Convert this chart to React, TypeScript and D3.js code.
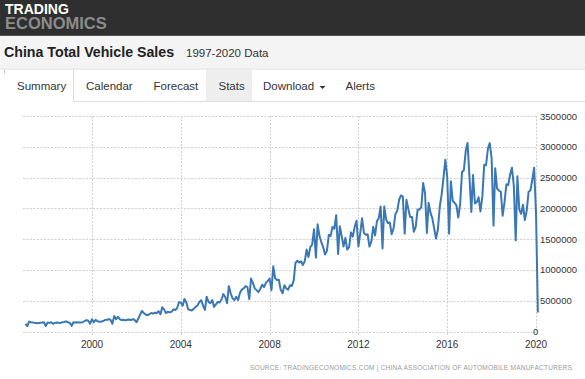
import React from "react";
import * as d3 from "d3";

// Monthly China total vehicle sales (units), Jan 1997 – Feb 2020
const sales1997 = [125000, 85000, 160000, 150000, 148000, 140000, 138000, 135000, 142000, 145000, 150000, 90000];
const sales1998 = [145000, 140000, 150000, 125000, 140000, 145000, 142000, 140000, 150000, 155000, 165000, 150000];
const sales1999 = [140000, 92000, 150000, 148000, 150000, 145000, 148000, 150000, 170000, 185000, 175000, 125000];
const sales2000 = [200000, 150000, 190000, 165000, 160000, 160000, 170000, 185000, 190000, 200000, 190000, 125000];
const sales2001 = [250000, 200000, 240000, 200000, 185000, 190000, 180000, 190000, 195000, 185000, 200000, 190000];
const sales2002 = [150000, 210000, 270000, 333000, 300000, 275000, 265000, 280000, 300000, 290000, 305000, 300000];
const sales2003 = [330000, 280000, 394000, 360000, 300000, 320000, 310000, 320000, 360000, 350000, 377000, 474000];
const sales2004 = [470000, 420000, 527000, 470000, 360000, 350000, 340000, 370000, 400000, 420000, 480000, 510000];
const sales2005 = [420000, 350000, 565000, 480000, 460000, 510000, 400000, 440000, 480000, 470000, 520000, 608000];
const sales2006 = [560000, 460000, 737000, 620000, 540000, 510000, 565000, 510000, 630000, 680000, 700000, 737000];
const sales2007 = [720000, 527000, 860000, 790000, 700000, 672000, 640000, 690000, 760000, 720000, 790000, 820000];
const sales2008 = [860000, 670000, 1060000, 865000, 835000, 840000, 680000, 620000, 750000, 700000, 680000, 750000];
const sales2009 = [740000, 830000, 1110000, 1150000, 1120000, 1140000, 1080000, 1140000, 1330000, 1210000, 1370000, 1410000];
const sales2010 = [1660000, 1200000, 1740000, 1550000, 1450000, 1370000, 1250000, 1310000, 1570000, 1550000, 1700000, 1670000];
const sales2011 = [1890000, 1260000, 1710000, 1550000, 1380000, 1520000, 1330000, 1370000, 1610000, 1540000, 1700000, 1800000];
const sales2012 = [1380000, 1600000, 1840000, 1600000, 1570000, 1580000, 1380000, 1460000, 1700000, 1560000, 1790000, 1840000];
const sales2013 = [2030000, 1350000, 2030000, 1820000, 1760000, 1770000, 1580000, 1670000, 1910000, 1960000, 2140000, 2210000];
const sales2014 = [2190000, 1590000, 2140000, 1990000, 1860000, 1860000, 1620000, 1700000, 1980000, 1980000, 2020000, 2410000];
const sales2015 = [2250000, 1600000, 2090000, 1930000, 1840000, 1670000, 1510000, 1660000, 2030000, 2220000, 2500000, 2790000];
const sales2016 = [2510000, 1590000, 2440000, 2120000, 2090000, 2050000, 1850000, 2070000, 2590000, 2620000, 2930000, 3060000];
const sales2017 = [2520000, 1940000, 2540000, 2080000, 2100000, 2180000, 1950000, 2190000, 2710000, 2700000, 2970000, 3060000];
const sales2018 = [2810000, 1720000, 2650000, 2320000, 2290000, 2270000, 1880000, 2100000, 2390000, 2380000, 2550000, 2660000];
const sales2019 = [2370000, 1480000, 2520000, 1980000, 1910000, 2060000, 1810000, 1960000, 2270000, 2290000, 2460000, 2660000];
const sales2020 = [1940000, 310000];

const yearSeries = [
  sales1997, sales1998, sales1999, sales2000, sales2001, sales2002, sales2003, sales2004,
  sales2005, sales2006, sales2007, sales2008, sales2009, sales2010, sales2011, sales2012,
  sales2013, sales2014, sales2015, sales2016, sales2017, sales2018, sales2019, sales2020,
];
const firstYear = 1997;

const yTicks = [0, 500000, 1000000, 1500000, 2000000, 2500000, 3000000, 3500000];
const xTickYears = [2000, 2004, 2008, 2012, 2016, 2020];
const tabs = ["Summary", "Calendar", "Forecast", "Stats", "Download", "Alerts"];

const FONT = "'Liberation Sans', Arial, Helvetica, sans-serif";

export default function App() {
  const W = 585;
  const H = 379;

  const data: { date: Date; value: number }[] = [];
  yearSeries.forEach((arr, i) => {
    arr.forEach((v, m) => {
      data.push({ date: new Date(Date.UTC(firstYear + i, m, 1)), value: v });
    });
  });

  const x = d3
    .scaleUtc()
    .domain([new Date(Date.UTC(2000, 0, 1)), new Date(Date.UTC(2020, 0, 1))])
    .range([92, 536]);
  const y = d3.scaleLinear().domain([0, 3500000]).range([331.5, 116]);

  const line = d3
    .line<{ date: Date; value: number }>()
    .x((d) => x(d.date))
    .y((d) => y(d.value));

  const plotLeft = 23;
  const plotRight = 536;

  const tabX = [17, 86, 153.5, 218.5, 263, 345.5];

  return (
    <div style={{ position: "absolute", left: 0, top: 0, width: W, height: H }}>
      <svg width={W} height={H} style={{ display: "block", fontFamily: FONT }}>
        <rect x={0} y={0} width={W} height={H} fill="#ffffff" />
        {/* header */}
        <rect x={0} y={0} width={W} height={36} fill="#2f2f2f" />
        <rect x={0} y={35} width={W} height={1} fill="#555555" />
        <text fontWeight="bold">
          <tspan x={5} y={14} fontSize={14} fill="#ffffff">
            TRADING
          </tspan>
          <tspan x={5} y={28.5} fontSize={16.5} fill="#8c8c8c">
            ECONOMICS
          </tspan>
        </text>
        {/* title bar */}
        <rect x={0} y={36} width={W} height={32.5} fill="#f4f4f4" />
        <rect x={0} y={68.5} width={W} height={1} fill="#dddddd" />
        <text x={4} y={57} fontSize={14.2} fontWeight="bold" fill="#222222">
          China Total Vehicle Sales
        </text>
        <text x={186} y={57} fontSize={11.5} fill="#333333">
          1997-2020 Data
        </text>
        {/* tabs */}
        <rect x={206} y={69.5} width={46} height={31.5} fill="#eeeeee" />
        <rect x={73.5} y={101} width={W - 73.5} height={1} fill="#dddddd" />
        <rect x={73} y={69.5} width={1} height={32} fill="#dddddd" />
        <rect x={4} y={69.5} width={1} height={4} fill="#cccccc" />
        {tabs.map((t, i) => (
          <text key={t} x={tabX[i]} y={90} fontSize={11.5} fill="#333333">
            {t}
          </text>
        ))}
        <path d="M319.5,86 L325.5,86 L322.5,89 Z" fill="#333333" />
        {/* grid */}
        {yTicks.map((t) => (
          <line
            key={"gy" + t}
            x1={plotLeft}
            x2={plotRight}
            y1={Math.round(y(t)) + 0.5}
            y2={Math.round(y(t)) + 0.5}
            stroke="#cfcfcf"
            strokeWidth={1}
            strokeDasharray="2,1.5"
          />
        ))}
        {xTickYears.map((yr) => {
          const xx = Math.round(x(new Date(Date.UTC(yr, 0, 1)))) + 0.5;
          return (
            <line
              key={"gx" + yr}
              x1={xx}
              x2={xx}
              y1={116}
              y2={335}
              stroke="#cfcfcf"
              strokeWidth={1}
              strokeDasharray="2,1.5"
            />
          );
        })}
        {/* series */}
        <path d={line(data) || ""} fill="none" stroke="#3a78b5" strokeWidth={2} strokeLinejoin="round" />
        {/* y labels */}
        {yTicks.map((t) => (
          <text
            key={"ly" + t}
            x={t === 0 ? 533 : 540}
            y={y(t) + 3.5}
            fontSize={9.5}
            fill="#333333"
          >
            {t}
          </text>
        ))}
        {/* x labels */}
        {xTickYears.map((yr) => (
          <text
            key={"lx" + yr}
            x={x(new Date(Date.UTC(yr, 0, 1)))}
            y={348}
            fontSize={10}
            fill="#333333"
            textAnchor="middle"
          >
            {yr}
          </text>
        ))}
        {/* source */}
        <text
          x={250}
          y={370}
          fontSize={6.5}
          fill="#999999"
          textLength={322}
          lengthAdjust="spacing"
        >
          SOURCE: TRADINGECONOMICS.COM | CHINA ASSOCIATION OF AUTOMOBILE MANUFACTURERS
        </text>
      </svg>
    </div>
  );
}
